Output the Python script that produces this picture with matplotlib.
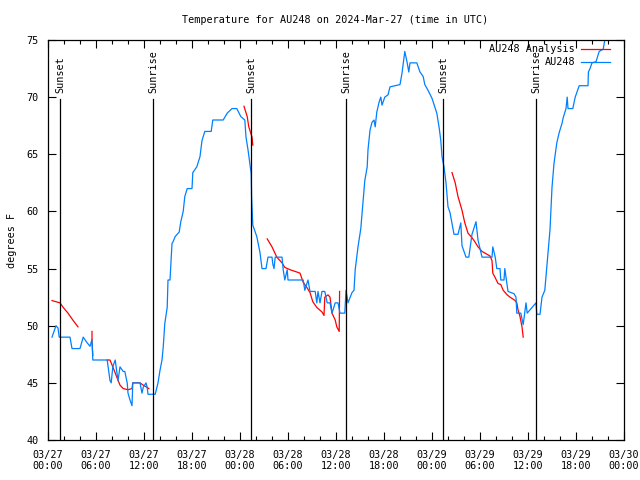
import numpy as np
import pandas as pd
import matplotlib
matplotlib.use('Agg')
import matplotlib.pyplot as plt
from matplotlib.dates import DateFormatter, HourLocator

# hours since 2024-03-27 00:00 UTC, temperature in F
obs_hours = [0.5, 0.75, 1.0, 1.25, 1.4, 2.75, 3.0, 4.0, 4.4, 4.9, 5.25, 5.5, 5.6, 7.4,
             7.75, 7.9, 8.1, 8.4, 8.75, 9.0, 9.4, 9.6, 9.9, 10.0, 10.25, 10.5, 10.6, 11.5,
             11.75, 11.9, 12.25, 12.4, 12.5, 13.4, 13.75, 14.0, 14.25, 14.4, 14.6, 14.9,
             15.0, 15.25, 15.5, 15.6, 15.9, 16.4, 16.6, 16.9, 17.1, 17.4, 18.0, 18.1,
             18.6, 19.0, 19.25, 19.6, 20.4, 20.6, 21.9, 22.4, 23.0, 23.6, 24.1, 24.6,
             24.75, 25.0, 25.4, 25.45, 25.6, 26.1, 26.5, 26.75, 27.25, 27.5, 28.0, 28.1,
             28.25, 28.4, 29.25, 29.4, 29.6, 29.9, 30.0, 31.9, 32.1, 32.5, 32.75, 33.4,
             33.6, 33.75, 34.0, 34.25, 34.6, 34.9, 35.25, 35.5, 35.9, 36.25, 36.5, 37.1,
             37.25, 37.5, 38.0, 38.25, 38.4, 38.75, 39.1, 39.4, 39.6, 39.9, 40.0, 40.25,
             40.5, 40.75, 40.9, 41.1, 41.4, 41.6, 41.75, 41.9, 42.1, 42.5, 42.75, 44.0,
             44.25, 44.6, 44.9, 45.1, 45.25, 46.1, 46.5, 46.9, 47.1, 47.5, 48.0, 48.6,
             48.9, 49.1, 49.25, 49.5, 49.75, 50.0, 50.25, 50.75, 51.25, 51.6, 51.75,
             52.25, 52.6, 53.0, 53.5, 53.75, 54.25, 55.5, 55.6, 55.9, 56.1, 56.5, 56.6,
             57.0, 57.1, 57.5, 58.25, 58.5, 58.6, 59.1, 59.4, 59.75, 59.9, 61.0, 61.1,
             61.5, 61.75, 62.1, 62.4, 62.75, 63.0, 63.25, 63.6, 63.9, 64.25, 64.4, 64.75,
             64.9, 65.0, 65.6, 65.9, 66.4, 67.5, 67.55, 67.75, 68.0, 68.5, 68.9, 69.4,
             69.6, 70.0]
obs_temp = [49.0, 49.5, 50.0, 49.8, 49.0, 49.0, 48.0, 48.0, 49.0, 48.5, 48.2, 48.8, 47.0, 47.0,
            45.2, 45.0, 46.4, 47.0, 45.2, 46.4, 46.0, 46.0, 45.0, 44.1, 43.5, 43.0, 45.0, 45.0,
            44.1, 44.6, 45.0, 44.6, 44.0, 44.0, 45.0, 46.1, 47.0, 48.1, 50.2, 51.6,
            54.0, 54.0, 57.2, 57.3, 57.8, 58.2, 59.1, 60.0, 61.3, 62.0, 62.0, 63.4,
            63.9, 64.8, 66.2, 67.0, 67.0, 68.0, 68.0, 68.6, 69.0, 69.0, 68.3, 68.0,
            66.5, 65.4, 63.3, 61.3, 58.8, 57.8, 56.4, 55.0, 55.0, 56.0, 56.0, 55.4,
            55.0, 56.0, 56.0, 54.9, 54.0, 54.9, 54.0, 54.0, 53.1, 54.0, 53.0, 53.0,
            52.0, 53.0, 52.0, 53.0, 53.0, 52.0, 52.0, 51.1, 52.0, 52.0, 51.1, 51.1,
            53.1, 52.0, 52.9, 53.1, 54.9, 56.9, 58.5, 61.0, 62.7, 63.9, 65.4, 67.1,
            67.8, 68.0, 67.4, 68.7, 69.6, 70.0, 69.3, 69.6, 70.0, 70.2, 70.9, 71.1,
            72.1, 74.0, 73.0, 72.2, 73.0, 73.0, 72.2, 71.8, 71.1, 70.6, 69.9, 68.6,
            67.3, 66.2, 64.8, 63.9, 62.5, 60.4, 59.9, 58.0, 58.0, 59.0, 57.0,
            56.0, 56.0, 58.0, 59.1, 57.5, 56.0, 56.0, 56.9, 56.0, 55.0, 55.0, 54.0,
            54.0, 55.0, 53.0, 52.8, 52.5, 51.1, 51.1, 50.1, 52.0, 51.1, 52.0, 51.0,
            51.0, 52.5, 53.1, 55.5, 58.4, 62.1, 64.2, 66.0, 66.9, 67.7, 68.2, 69.0,
            70.0, 69.0, 69.0, 70.0, 71.0, 71.0, 72.2, 72.5, 73.0, 73.1, 74.0, 74.2,
            75.0, 75.5]

# analysis series, NaN separates the pieces
ana_hours = [0.5, 1.0, 1.5, 1.9, 2.5, 3.1, 3.75, np.nan,
             5.5, 5.5, 5.6, np.nan,
             7.4, 7.75, 8.1, 8.6, 9.0, 9.4, 10.0, 10.5, 10.6, 11.5, 11.9, 12.4, 12.6, np.nan,
             24.5, 24.9, 25.1, 25.5, 25.6, np.nan,
             27.4, 28.0, 28.6, 29.25, 29.6, 30.25, 31.1, 31.5, 31.9, 32.4, 32.75, 33.1,
             33.6, 34.25, 34.5, 34.6, 35.0, 35.25, 35.5, 35.9, 36.1, 36.4, 36.45, np.nan,
             50.5, 50.9, 51.25, 51.75, 52.1, 52.5, 53.0, 53.4, 53.75, 54.25, 55.25, 55.5,
             55.6, 55.9, 56.25, 56.6, 56.9, 57.4, 57.75, 58.4, 58.6, 58.75, 59.0, 59.25, 59.4]
ana_temp = [52.2, 52.1, 52.0, 51.6, 51.1, 50.5, 49.9, np.nan,
            49.5, 48.7, 47.4, np.nan,
            47.0, 47.0, 46.4, 45.5, 44.8, 44.5, 44.4, 44.5, 45.0, 45.0, 44.8, 44.6, 44.5, np.nan,
            69.2, 68.3, 67.4, 66.5, 65.8, np.nan,
            57.6, 56.9, 56.0, 55.5, 55.1, 54.9, 54.7, 54.6, 53.8, 53.3, 52.9, 52.1,
            51.6, 51.2, 50.9, 52.5, 52.7, 52.5, 51.1, 50.5, 49.9, 49.5, 53.0, np.nan,
            63.4, 62.5, 61.3, 60.1, 59.0, 58.1, 57.7, 57.3, 56.9, 56.5, 56.1, 55.7,
            54.6, 54.2, 53.7, 53.6, 53.1, 52.7, 52.5, 52.2, 52.0, 51.4, 50.8, 49.9, 49.0]

sun_hours = [1.5, 13.125, 25.375, 37.25, 49.375, 61.0]
sun_names = ['Sunset', 'Sunrise', 'Sunset', 'Sunrise', 'Sunset', 'Sunrise']

base = pd.Timestamp('2024-03-27 00:00')
def to_time(h):
    return base + pd.to_timedelta(np.array(h, dtype=float), unit='h')

obs_t = to_time(obs_hours)
ana_t = to_time(ana_hours)
sun_t = to_time(sun_hours)

plt.rcParams['font.family'] = 'DejaVu Sans Mono'
plt.rcParams['font.size'] = 7.3

fig = plt.figure(figsize=(6.4, 4.8), dpi=100)
ax = fig.add_axes([48/640, 40/480, 576/640, 400/480])

blue = '#0080ff'
ax.plot(ana_t, ana_temp, color='red', linewidth=0.9)
ax.plot(obs_t, obs_temp, color=blue, linewidth=0.9)

for t, name in zip(sun_t, sun_names):
    ax.plot([t, t], [40, 69.8], color='black', linewidth=0.9)
    ax.text(t, 70.4, name, rotation=90, ha='center', va='bottom')

ax.set_xlim(base, base + pd.Timedelta(hours=72))
ax.set_ylim(40, 75)
ax.set_yticks(np.arange(40, 76, 5))

ax.xaxis.set_major_locator(HourLocator(byhour=[0, 6, 12, 18]))
ax.xaxis.set_minor_locator(HourLocator(interval=2))
ax.xaxis.set_major_formatter(DateFormatter('%m/%d\n%H:%M'))

ax.tick_params(which='both', direction='in', top=True, right=True, width=0.8)
ax.tick_params(which='major', length=6)
ax.tick_params(which='minor', length=3)
ax.tick_params(axis='y', pad=7)
ax.tick_params(axis='x', pad=7)
for s in ax.spines.values():
    s.set_linewidth(0.9)

# legend, gnuplot style (text right-aligned, sample on the right)
ax.text(0.915, 0.977, 'AU248 Analysis', transform=ax.transAxes, ha='right', va='center')
ax.plot([0.925, 0.976], [0.977, 0.977], transform=ax.transAxes, color='red', linewidth=0.9)
ax.text(0.915, 0.945, 'AU248', transform=ax.transAxes, ha='right', va='center')
ax.plot([0.925, 0.976], [0.945, 0.945], transform=ax.transAxes, color=blue, linewidth=0.9)

fig.text(0.523, 1 - 20/480, 'Temperature for AU248 on 2024-Mar-27 (time in UTC)',
         ha='center', va='center')
fig.text(12/640, 0.5, 'degrees F', rotation=90, ha='center', va='center')

plt.savefig('out.png', dpi=100)
